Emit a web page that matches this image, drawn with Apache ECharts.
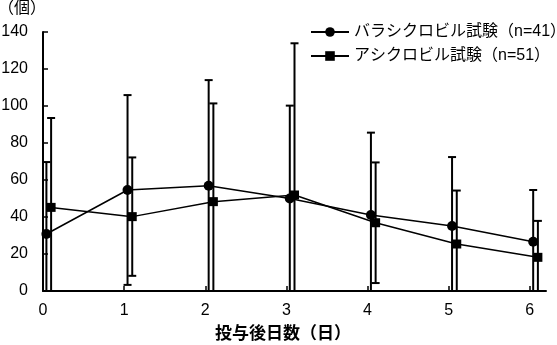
<!DOCTYPE html>
<html>
<head>
<meta charset="utf-8">
<script src="https://cdn.jsdelivr.net/npm/echarts@6/dist/echarts.min.js"></script>
<style>
html,body{margin:0;padding:0;background:#fff;}
#chart{width:557px;height:345px;}
</style>
</head>
<body>
<div id="chart"></div>
<script>
// ---- data ----
var days = [0, 1, 2, 3, 4, 5, 6];
var xTickLabels = ['0', '1', '2', '3', '4', '5', '6'];
var yTickLabels = ['0', '20', '40', '60', '80', '100', '120', '140'];
var seriesNames = ['バラシクロビル試験（n=41）', 'アシクロビル試験（n=51）'];
var yUnit = '（個）';
var xTitle = '投与後日数（日）';
var valaMean = [30.8, 54.6, 56.9, 50.0, 41.1, 35.1, 26.6];
var valaSD   = [38.9, 51.3, 57.1, 50.2, 44.5, 37.3, 28.0];
var acicMean = [45.2, 40.2, 48.3, 51.9, 36.9, 25.4, 18.2];
var acicSD   = [48.3, 32.0, 53.1, 82.0, 32.6, 28.9, 19.7];

// ---- layout / style constants ----
var OFFSET_A = 0.042, OFFSET_B = 0.1;
var FONT = "'Liberation Sans', 'Noto Sans CJK JP', sans-serif";

function pts(mean, off) { return days.map(function (d, i) { return [d + off, mean[i]]; }); }
function ebs(mean, sd, off) { return days.map(function (d, i) { return [d + off, mean[i], sd[i]]; }); }

function renderErr(params, api) {
  var x = api.value(0), m = api.value(1), s = api.value(2);
  var top = api.coord([x, m + s]);
  var lowVal = Math.max(m - s, 0);
  var bot = api.coord([x, lowVal]);
  var cw = 4;
  var st = { stroke: '#000', lineWidth: 2 };
  var children = [
    { type: 'line', shape: { x1: top[0], y1: top[1], x2: bot[0], y2: bot[1] }, style: st },
    { type: 'line', shape: { x1: top[0] - cw, y1: top[1], x2: top[0] + cw, y2: top[1] }, style: st }
  ];
  if (m - s >= 0) {
    children.push({ type: 'line', shape: { x1: bot[0] - cw, y1: bot[1], x2: bot[0] + cw, y2: bot[1] }, style: st });
  }
  return { type: 'group', children: children };
}

var chart = echarts.init(document.getElementById('chart'), null, { renderer: 'canvas' });
chart.setOption({
  animation: false,
  backgroundColor: '#fff',
  textStyle: { fontFamily: FONT, color: '#000' },
  title: [
    {
      text: yUnit, left: -2, top: 1, padding: 0,
      textStyle: { fontFamily: FONT, fontSize: 16, fontWeight: 'normal', color: '#000' }
    },
    {
      text: xTitle, left: 283, top: 326, padding: 0, textAlign: 'center',
      textStyle: { fontFamily: FONT, fontSize: 17, fontWeight: 'bold', color: '#000' }
    }
  ],
  legend: {
    orient: 'vertical', left: 305, top: 19,
    itemWidth: 38, itemHeight: 12, itemGap: 8,
    data: seriesNames,
    textStyle: { fontFamily: FONT, fontSize: 16, color: '#000' }
  },
  grid: { left: 43, right: 11, top: 32, bottom: 54, containLabel: false, outerBoundsMode: 'none' },
  xAxis: {
    type: 'value', min: 0, max: 6.2, interval: 1,
    axisLine: { lineStyle: { color: '#000', width: 2 } },
    axisTick: { inside: true, length: 5, lineStyle: { color: '#000', width: 1.5 } },
    axisLabel: {
      fontFamily: FONT, fontSize: 16, color: '#000', margin: 12, showMaxLabel: false,
      formatter: function (v) { var i = days.indexOf(v); return i >= 0 ? xTickLabels[i] : ''; }
    },
    splitLine: { show: false }
  },
  yAxis: {
    type: 'value', min: 0, max: 140, interval: 20,
    axisLine: { show: true, lineStyle: { color: '#000', width: 2 } },
    axisTick: { show: true, inside: true, length: 5, lineStyle: { color: '#000', width: 1.5 } },
    axisLabel: {
      fontFamily: FONT, fontSize: 16, color: '#000', margin: 15,
      formatter: function (v) { return yTickLabels[Math.round(v / 20)]; }
    },
    splitLine: { show: false }
  },
  series: [
    { type: 'custom', name: 'errA', renderItem: renderErr, data: ebs(valaMean, valaSD, OFFSET_A), z: 1, silent: true },
    { type: 'custom', name: 'errB', renderItem: renderErr, data: ebs(acicMean, acicSD, OFFSET_B), z: 1, silent: true },
    {
      type: 'line', name: seriesNames[0], data: pts(valaMean, OFFSET_A),
      symbol: 'circle', symbolSize: 10, z: 3,
      lineStyle: { color: '#000', width: 1.5 }, itemStyle: { color: '#000' }
    },
    {
      type: 'line', name: seriesNames[1], data: pts(acicMean, OFFSET_B),
      symbol: 'rect', symbolSize: 9, z: 3,
      lineStyle: { color: '#000', width: 1.5 }, itemStyle: { color: '#000' }
    }
  ]
});
</script>
</body>
</html>
